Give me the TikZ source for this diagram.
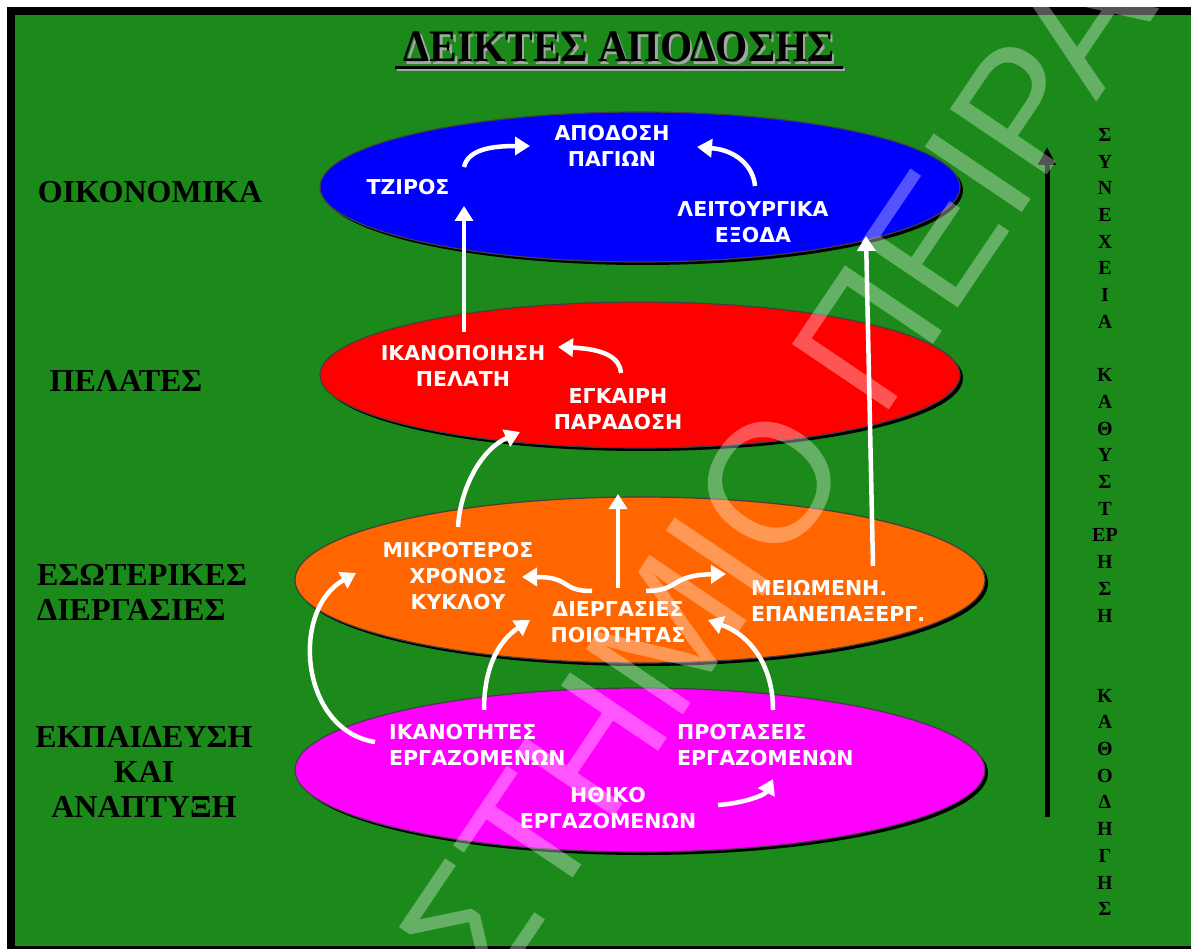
\documentclass[tikz,border=0pt]{standalone}
\usepackage{fontspec}
\setmainfont{Liberation Serif}
\newfontfamily\dvs{DejaVu Sans}
\newfontfamily\wmfont{Liberation Sans}
\usetikzlibrary{arrows.meta,shapes.geometric}
\definecolor{bggreen}{RGB}{27,138,27}
\definecolor{eorange}{RGB}{255,102,0}
\definecolor{emagenta}{RGB}{255,0,255}
\definecolor{eblue}{RGB}{0,0,255}
\definecolor{ered}{RGB}{255,0,0}
\begin{document}
\begin{tikzpicture}[x=1pt,y=-1pt,
  ellbase/.style={ellipse,inner sep=0pt,draw=black!75,line width=1.2pt},
  ellshadow/.style={ellipse,inner sep=0pt,fill=black},
  intext/.style={inner sep=0pt,text=white,font=\dvs\bfseries\fontsize{20.5}{26}\selectfont},
  sidelabel/.style={inner sep=0pt,text=black,font=\bfseries\fontsize{32}{35}\selectfont},
  warrow/.style={draw=white,line width=4.5pt,-{Triangle[width=18pt,length=15pt]}},
  barrow/.style={draw=black,line width=5pt,-{Triangle[width=17pt,length=18pt]}}
]
\useasboundingbox (0,0) rectangle (1191,949);
\clip (0,0) rectangle (1191,949);
% frame
\fill[white] (0,0) rectangle (1191,949);
\fill[black] (7,7) rectangle (1195,953);
\fill[bggreen] (15,15) rectangle (1195,946);

% title
\node[inner sep=0pt,text=black!35,font=\bfseries\fontsize{45}{45}\selectfont] (titleshadow) at (621.5,49.5) {\scalebox{0.92}[1]{ΔΕΙΚΤΕΣ ΑΠΟΔΟΣΗΣ}};
\node[inner sep=0pt,text=black,font=\bfseries\fontsize{45}{45}\selectfont] (title) at (619,47) {\scalebox{0.92}[1]{ΔΕΙΚΤΕΣ ΑΠΟΔΟΣΗΣ}};
\draw[black!35,line width=3pt] (397,70) -- (845,70);
\draw[black,line width=3.5pt] (395,67.5) -- (843,67.5);

% ellipses (shadows then fills)
\node[ellshadow,minimum width=640pt,minimum height=150pt] at (643,190) {};
\node[ellbase,fill=eblue,minimum width=640pt,minimum height=150pt] (ecoB) at (640,187) {};
\node[ellshadow,minimum width=640pt,minimum height=146pt] at (643,378) {};
\node[ellbase,fill=ered,minimum width=640pt,minimum height=146pt] (ecoR) at (640,375) {};
\node[ellshadow,minimum width=690pt,minimum height=166pt] at (643,583) {};
\node[ellbase,fill=eorange,minimum width=690pt,minimum height=166pt] (ecoO) at (640,580) {};
\node[ellshadow,minimum width=690pt,minimum height=164pt] at (643,773) {};
\node[ellbase,fill=emagenta,minimum width=690pt,minimum height=164pt] (ecoM) at (640,770) {};

% side labels
\node[sidelabel] (lOik) at (150,192) {ΟΙΚΟΝΟΜΙΚΑ};
\node[sidelabel] (lPel) at (126,381) {ΠΕΛΑΤΕΣ};
\node[sidelabel,anchor=west,align=left] (lEso) at (37,592) {ΕΣΩΤΕΡΙΚΕΣ\\ΔΙΕΡΓΑΣΙΕΣ};
\node[sidelabel,align=center] (lEkp) at (144,772) {ΕΚΠΑΙΔΕΥΣΗ\\ΚΑΙ\\ΑΝΑΠΤΥΞΗ};

% right column text and arrow
\node[inner sep=0pt,align=center,font=\bfseries\fontsize{20}{26.7}\selectfont] (rcol) at (1105,522)
 {Σ\\Υ\\Ν\\Ε\\Χ\\Ε\\Ι\\Α\\\mbox{}\\Κ\\Α\\Θ\\Υ\\Σ\\Τ\\ΕΡ\\Η\\Σ\\Η\\\mbox{}\\\mbox{}\\Κ\\Α\\Θ\\Ο\\Δ\\Η\\Γ\\Η\\Σ};
\coordinate (axB) at (1047,817);
\coordinate (axT) at (1047,147);
\draw[barrow] (axB) -- (axT);

% texts inside ellipses
\node[intext,align=center] (tApo) at (612,146) {ΑΠΟΔΟΣΗ\\ΠΑΓΙΩΝ};
\node[intext] (tTzi) at (408,187) {ΤΖΙΡΟΣ};
\node[intext,align=center] (tLei) at (753,222) {ΛΕΙΤΟΥΡΓΙΚΑ\\ΕΞΟΔΑ};
\node[intext,align=center] (tIka) at (463,366) {ΙΚΑΝΟΠΟΙΗΣΗ\\ΠΕΛΑΤΗ};
\node[intext,align=center] (tEgk) at (618,409) {ΕΓΚΑΙΡΗ\\ΠΑΡΑΔΟΣΗ};
\node[intext,align=center] (tMik) at (458,576) {ΜΙΚΡΟΤΕΡΟΣ\\ΧΡΟΝΟΣ\\ΚΥΚΛΟΥ};
\node[intext,align=center] (tDie) at (618,622) {ΔΙΕΡΓΑΣΙΕΣ\\ΠΟΙΟΤΗΤΑΣ};
\node[intext,align=left,anchor=west] (tMei) at (751,601) {ΜΕΙΩΜΕΝΗ.\\ΕΠΑΝΕΠΑΞΕΡΓ.};
\node[intext,align=left,anchor=west] (tIkt) at (389,745) {ΙΚΑΝΟΤΗΤΕΣ\\ΕΡΓΑΖΟΜΕΝΩΝ};
\node[intext,align=left,anchor=west] (tPro) at (677,745) {ΠΡΟΤΑΣΕΙΣ\\ΕΡΓΑΖΟΜΕΝΩΝ};
\node[intext,align=center] (tHth) at (608,808) {ΗΘΙΚΟ\\ΕΡΓΑΖΟΜΕΝΩΝ};

% arrow end points
\coordinate (a1s) at (464,167); \coordinate (a1e) at (530,146);
\coordinate (a2s) at (755,186); \coordinate (a2e) at (697,147);
\coordinate (a3s) at (464,332); \coordinate (a3e) at (464,206);
\coordinate (a4s) at (873,566); \coordinate (a4e) at (866,236);
\coordinate (a5s) at (621,373); \coordinate (a5e) at (558,347);
\coordinate (a6s) at (458,527); \coordinate (a6e) at (520,432);
\coordinate (a7s) at (618,588); \coordinate (a7e) at (618,494);
\coordinate (a8s) at (592,591); \coordinate (a8e) at (522,577);
\coordinate (a9s) at (646,591); \coordinate (a9e) at (726,574);
\coordinate (a10s) at (375,742); \coordinate (a10e) at (356,573);
\coordinate (a11s) at (484,710); \coordinate (a11e) at (530,620);
\coordinate (a12s) at (773,710); \coordinate (a12e) at (708,620);
\coordinate (a13s) at (718,805); \coordinate (a13e) at (773,779);

\draw[warrow] (a1s) .. controls (468,150) and (490,146) .. (a1e);
\draw[warrow] (a2s) .. controls (753,165) and (735,150) .. (a2e);
\draw[warrow] (a3s) -- (a3e);
\draw[warrow] (a4s) -- (a4e);
\draw[warrow] (a5s) .. controls (620,358) and (605,349) .. (a5e);
\draw[warrow] (a6s) .. controls (460,490) and (480,450) .. (a6e);
\draw[warrow] (a7s) -- (a7e);
\draw[warrow] (a8s) .. controls (560,591) and (572,577) .. (a8e);
\draw[warrow] (a9s) .. controls (680,591) and (670,575) .. (a9e);
\draw[warrow] (a10s) .. controls (300,730) and (290,610) .. (a10e);
\draw[warrow] (a11s) .. controls (484,665) and (500,640) .. (a11e);
\draw[warrow] (a12s) .. controls (773,665) and (750,635) .. (a12e);
\draw[warrow] (a13s) .. controls (745,803) and (765,795) .. (a13e);

% watermark
\node[inner sep=0pt,rotate=56,anchor=base west,text=white,opacity=0.33,font=\wmfont\fontsize{170}{170}\selectfont] (wmark) at (490,1002) {\llap{ΠΑΝΕΠΙ}ΣΤΗΜΙΟ ΠΕΙΡΑΙΑ};
\end{tikzpicture}
\end{document}
